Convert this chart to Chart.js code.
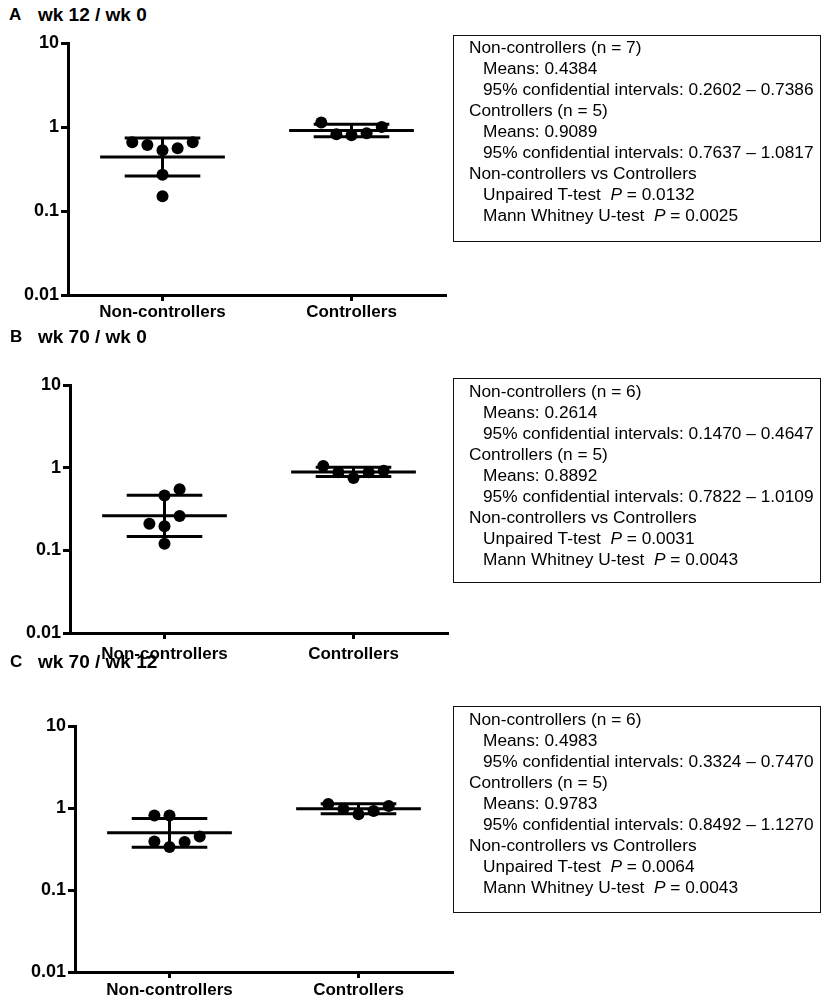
<!DOCTYPE html>
<html>
<head>
<meta charset="utf-8">
<script src="https://cdn.jsdelivr.net/npm/chart.js@4.4.1/dist/chart.umd.min.js"></script>
<style>
  body { margin:0; background:#fff; width:822px; height:998px; position:relative; overflow:hidden;
         font-family:"Liberation Sans", Arial, sans-serif; color:#000; }
  canvas { position:absolute; }
  .letter { position:absolute; font-weight:bold; font-size:17px; line-height:20px; }
  .ttl { position:absolute; left:38px; font-weight:bold; font-size:19px; line-height:20px; }
  .stats { position:absolute; left:453px; width:368px; box-sizing:border-box; border:1.5px solid #111;
           padding:2px 0 0 15px; font-size:17.3px; line-height:21px; white-space:nowrap; }
  .stats .i { padding-left:14px; }
</style>
</head>
<body>
<div class="letter" style="left:9px;top:5px">A</div>
<div class="ttl" style="top:5px">wk 12 / wk 0</div>
<canvas id="chartA" width="460" height="315"></canvas>
<div class="stats" id="statsA" style="top:35px;height:207px;padding-top:1px"></div>

<div class="letter" style="left:10px;top:327px">B</div>
<div class="ttl" style="top:327px">wk 70 / wk 0</div>
<canvas id="chartB" width="460" height="311"></canvas>
<div class="stats" id="statsB" style="top:378px;height:205px"></div>

<div class="letter" style="left:10px;top:652px">C</div>
<div class="ttl" style="top:652px">wk 70 / wk 12</div>
<canvas id="chartC" width="460" height="309"></canvas>
<div class="stats" id="statsC" style="top:706px;height:207px"></div>

<script>
const categories = ['Non-controllers', 'Controllers'];
const yTicks = [0.01, 0.1, 1, 10];

// ratios
const nonCtrlA = [0.66, 0.61, 0.53, 0.56, 0.66, 0.27, 0.15];
const ctrlA = [1.13, 0.82, 0.80, 0.84, 1.00];
const nonCtrlB = [0.46, 0.55, 0.21, 0.195, 0.26, 0.12];
const ctrlB = [1.05, 0.88, 0.75, 0.88, 0.92];
const nonCtrlC = [0.81, 0.81, 0.39, 0.334, 0.385, 0.45];
const ctrlC = [1.12, 0.97, 0.84, 0.92, 1.06];

// horizontal slot of each dot (scatter jitter)
const jitterNonCtrlA = [-2, -1, 0, 1, 2, 0, 0];
const jitterNonCtrlB = [0, 1, -1, 0, 1, 0];
const jitterNonCtrlC = [-1, 0, -1, 0, 1, 2];
const jitterCtrl = [-2, -1, 0, 1, 2];

// stats from the boxes: [non-controllers, controllers]
const meansA = [0.4384, 0.9089];
const ciLowA = [0.2602, 0.7637];
const ciHighA = [0.7386, 1.0817];
const pValuesA = [0.0132, 0.0025];

const meansB = [0.2614, 0.8892];
const ciLowB = [0.1470, 0.7822];
const ciHighB = [0.4647, 1.0109];
const pValuesB = [0.0031, 0.0043];

const meansC = [0.4983, 0.9783];
const ciLowC = [0.3324, 0.8492];
const ciHighC = [0.7470, 1.1270];
const pValuesC = [0.0064, 0.0043];

const JITTER = 0.08;
const MEAN_HALF = 0.33;
const CI_HALF = 0.2;

function seg(x1, y1, x2, y2) {
  return {
    data: [{x: x1, y: y1}, {x: x2, y: y2}],
    showLine: true, borderColor: '#000', borderWidth: 3,
    pointRadius: 0, order: 0
  };
}

function makePanel(id, left, top, plotH, labelPad, groups, jitters, means, lo, hi) {
  const canvas = document.getElementById(id);
  canvas.style.left = left + 'px';
  canvas.style.top = (top - 15) + 'px';
  canvas.height = 15 + plotH + 38;

  const datasets = [];
  groups.forEach((vals, g) => {
    const c = g + 1;
    datasets.push({
      data: vals.map((v, i) => ({x: c + jitters[g][i] * JITTER, y: v})),
      pointRadius: 6, pointBackgroundColor: '#000', pointBorderWidth: 0,
      showLine: false, order: 1
    });
    datasets.push(seg(c - MEAN_HALF, means[g], c + MEAN_HALF, means[g]));
    datasets.push(seg(c - CI_HALF, hi[g], c + CI_HALF, hi[g]));
    datasets.push(seg(c - CI_HALF, lo[g], c + CI_HALF, lo[g]));
    datasets.push(seg(c, lo[g], c, hi[g]));
  });

  new Chart(canvas, {
    type: 'scatter',
    data: {datasets: datasets},
    options: {
      responsive: false,
      animation: false,
      layout: {padding: {left: 0, top: 15, right: 14, bottom: 0}},
      plugins: {legend: {display: false}, tooltip: {enabled: false}},
      scales: {
        x: {
          type: 'linear', min: 0.5, max: 2.5,
          afterBuildTicks: (s) => { s.ticks = [{value: 1}, {value: 2}]; },
          afterFit: (s) => { s.height = 38; },
          border: {display: true, color: '#000', width: 3},
          grid: {drawOnChartArea: false, drawTicks: true, tickLength: 6, tickWidth: 3, color: '#000'},
          ticks: {
            padding: labelPad, color: '#000',
            font: {family: '"Liberation Sans", Arial', size: 17, weight: 'bold'},
            callback: (v) => categories[v - 1]
          }
        },
        y: {
          type: 'logarithmic', min: 0.01, max: 10,
          afterBuildTicks: (s) => { s.ticks = yTicks.map(v => ({value: v})); },
          afterFit: (s) => { s.width = 68; },
          border: {display: true, color: '#000', width: 3},
          grid: {drawOnChartArea: false, drawTicks: true, tickLength: 7, tickWidth: 3, color: '#000'},
          ticks: {
            padding: 2, color: '#000',
            font: {family: '"Liberation Sans", Arial', size: 18, weight: 'bold'},
            callback: (v) => String(v)
          }
        }
      }
    }
  });
}

function fillStats(id, groups, means, lo, hi, p) {
  const f = (v) => v.toFixed(4);
  const lines = [];
  groups.forEach((vals, g) => {
    lines.push('<div>' + categories[g] + ' (n = ' + vals.length + ')</div>');
    lines.push('<div class="i">Means: ' + f(means[g]) + '</div>');
    lines.push('<div class="i">95% confidential intervals: ' + f(lo[g]) + ' \u2013 ' + f(hi[g]) + '</div>');
  });
  lines.push('<div>' + categories[0] + ' vs ' + categories[1] + '</div>');
  lines.push('<div class="i">Unpaired T-test&nbsp; <i>P</i> = ' + f(p[0]) + '</div>');
  lines.push('<div class="i">Mann Whitney U-test&nbsp; <i>P</i> = ' + f(p[1]) + '</div>');
  document.getElementById(id).innerHTML = lines.join('');
}

makePanel('chartA', 0, 43, 252, 1, [nonCtrlA, ctrlA], [jitterNonCtrlA, jitterCtrl], meansA, ciLowA, ciHighA);
makePanel('chartB', 2, 385, 248, 5, [nonCtrlB, ctrlB], [jitterNonCtrlB, jitterCtrl], meansB, ciLowB, ciHighB);
makePanel('chartC', 7, 726, 246, 2, [nonCtrlC, ctrlC], [jitterNonCtrlC, jitterCtrl], meansC, ciLowC, ciHighC);

fillStats('statsA', [nonCtrlA, ctrlA], meansA, ciLowA, ciHighA, pValuesA);
fillStats('statsB', [nonCtrlB, ctrlB], meansB, ciLowB, ciHighB, pValuesB);
fillStats('statsC', [nonCtrlC, ctrlC], meansC, ciLowC, ciHighC, pValuesC);
</script>
</body>
</html>
